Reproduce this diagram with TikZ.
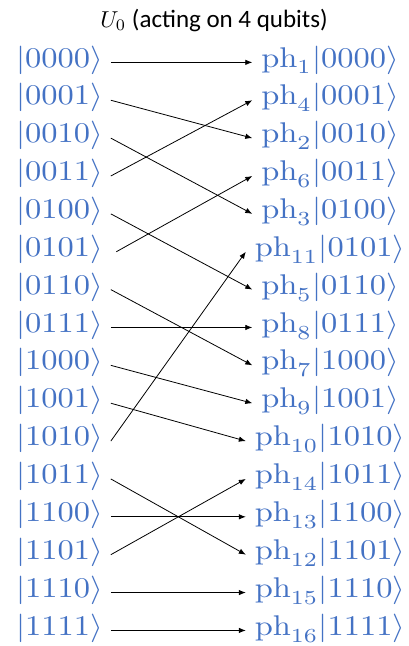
\documentclass[tikz,border=0pt]{standalone}
\usepackage{graphicx}
\usepackage{fontspec}
\newfontfamily\titlefont{Carlito}
\usetikzlibrary{arrows.meta}
\definecolor{ketblue}{RGB}{68,114,196}
\newcommand\kt[1]{\scalebox{3.25}[2.85]{$#1$}}
\begin{document}
\begin{tikzpicture}[x=1pt,y=-1pt,
  ket/.style={inner sep=0pt,outer sep=0pt,text=ketblue,anchor=base},
  arr/.style={line width=0.8pt,-{Latex[length=7pt,width=5.5pt]}}]
\useasboundingbox (0,0) rectangle (409,646);
\node[anchor=base,inner sep=0pt] (title) at (214,27.5)
  {\titlefont\fontsize{25}{29}\selectfont\scalebox{2.3}[2.3]{\normalsize$U_0$} (acting on 4 qubits)};
\foreach \i/\s in {0/0000,1/0001,2/0010,3/0011,4/0100,5/0101,6/0110,7/0111,
  8/1000,9/1001,10/1010,11/1011,12/1100,13/1101,14/1110,15/1111}
  \node[ket] (L\i) at (59.5,{67+37.87*\i}) {\kt{|\s\rangle}};
\foreach \i/\p/\s in {0/1/0000,1/4/0001,2/2/0010,3/6/0011,4/3/0100,5/11/0101,
  6/5/0110,7/8/0111,8/7/1000,9/9/1001,10/10/1010,11/14/1011,12/13/1100,
  13/12/1101,14/15/1110,15/16/1111}
  \node[ket] (R\i) at (330,{67+37.87*\i}) {\kt{\mathrm{ph}_{\p}|\s\rangle}};
\foreach \a/\b/\sx in {0/0/8,1/2/8,2/4/8,3/1/8,4/6/8,5/3/13.5,6/8/8,7/7/8,
  8/9/8,9/10/8,10/5/8,11/13/8,12/12/8,13/11/8,14/14/8,15/15/8}
  \draw[arr] ([xshift=\sx pt,yshift=-2.5pt]L\a.east) -- ([xshift=-9pt,yshift=-2.5pt]R\b.west);
\end{tikzpicture}
\end{document}
